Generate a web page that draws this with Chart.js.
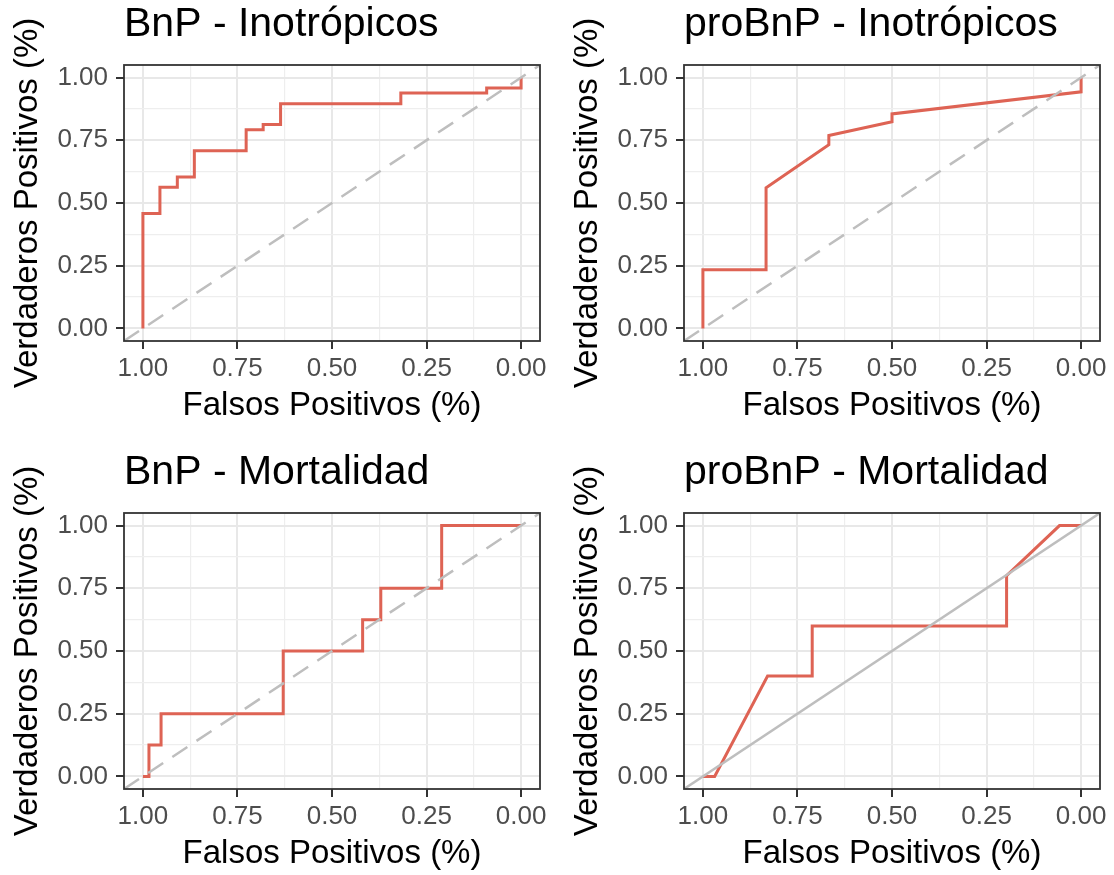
<!DOCTYPE html>
<html>
<head>
<meta charset="utf-8">
<script src="https://cdn.jsdelivr.net/npm/chart.js@4/dist/chart.umd.min.js"></script>
<style>
  html, body { margin: 0; padding: 0; background: #fff; overflow: hidden; }
  #wrap { position: relative; width: 1114px; height: 875px; }
  canvas { position: absolute; }
</style>
</head>
<body>
<div id="wrap">
  <canvas id="c1" width="557" height="430" style="left:0;top:0"></canvas>
  <canvas id="c2" width="557" height="430" style="left:560px;top:0"></canvas>
  <canvas id="c3" width="557" height="430" style="left:0;top:448px"></canvas>
  <canvas id="c4" width="557" height="430" style="left:560px;top:448px"></canvas>
</div>
<script>
"use strict";

// Four ROC curves (specificity axis reversed, as pROC::ggroc draws it).
// Values; vertices of each step curve.

const BNP_INO_X = [1, 1, 0.955, 0.955, 0.909, 0.909, 0.864, 0.864, 0.727, 0.727,
  0.682, 0.682, 0.636, 0.636, 0.318, 0.318, 0.091, 0.091, 0, 0];
const BNP_INO_Y = [0, 0.458, 0.458, 0.563, 0.563, 0.604, 0.604, 0.708, 0.708, 0.792,
  0.792, 0.813, 0.813, 0.896, 0.896, 0.938, 0.938, 0.958, 0.958, 1];

const PRO_INO_X = [1, 1, 0.833, 0.833, 0.667, 0.667, 0.5, 0.5, 0, 0];
const PRO_INO_Y = [0, 0.234, 0.234, 0.561, 0.732, 0.769, 0.824, 0.855, 0.943, 1];

const BNP_MOR_X = [1, 0.984, 0.984, 0.952, 0.952, 0.629, 0.629, 0.419, 0.419,
  0.371, 0.371, 0.21, 0.21, 0];
const BNP_MOR_Y = [0, 0, 0.125, 0.125, 0.25, 0.25, 0.5, 0.5, 0.625, 0.625,
  0.75, 0.75, 1, 1];

const PRO_MOR_X = [1, 0.969, 0.829, 0.711, 0.711, 0.197, 0.197, 0.057, 0];
const PRO_MOR_Y = [0, 0, 0.4, 0.4, 0.6, 0.6, 0.8, 1, 1];

// chance line, drawn corner to corner of the panel
const DIAG_X = [1.05, -0.05];
const DIAG_Y = [-0.05, 1.05];

const MAJOR_TICKS = [0, 0.25, 0.5, 0.75, 1];
const MINOR_TICKS = [0.125, 0.375, 0.625, 0.875];

const PANELS = [
  { id: "c1", title: "BnP - Inotrópicos", x: BNP_INO_X, y: BNP_INO_Y, dashed: true },
  { id: "c2", title: "proBnP - Inotrópicos", x: PRO_INO_X, y: PRO_INO_Y, dashed: true },
  { id: "c3", title: "BnP - Mortalidad", x: BNP_MOR_X, y: BNP_MOR_Y, dashed: true },
  { id: "c4", title: "proBnP - Mortalidad", x: PRO_MOR_X, y: PRO_MOR_Y, dashed: false },
];

const FONT = "'Liberation Sans', Arial, Helvetica, sans-serif";
const RED = "#DE6354";

const toPoints = (xs, ys) => xs.map((x, i) => ({ x, y: ys[i] }));
const isMajor = (v) => MAJOR_TICKS.some((m) => Math.abs(m - v) < 1e-9);

// ggplot-like panel border on all four sides
const borderPlugin = {
  id: "panelBorder",
  afterDatasetsDraw(chart) {
    const { ctx, chartArea: a } = chart;
    ctx.save();
    ctx.strokeStyle = "#333333";
    ctx.lineWidth = 1.8;
    ctx.strokeRect(a.left, a.top, a.right - a.left, a.bottom - a.top);
    ctx.restore();
  },
};

function axis(opts) {
  return Object.assign({
    type: "linear",
    min: -0.05,
    max: 1.05,
    afterBuildTicks: (s) => {
      s.ticks = MAJOR_TICKS.concat(MINOR_TICKS).sort((a, b) => a - b)
        .map((v) => ({ value: v }));
    },
    border: { display: false },
    grid: {
      color: (c) => (c.tick && isMajor(c.tick.value) ? "#E8E8E8" : "#EEEEEE"),
      lineWidth: (c) => (c.tick && isMajor(c.tick.value) ? 2 : 1.2),
      tickColor: (c) => (c.tick && isMajor(c.tick.value) ? "#333333" : "rgba(0,0,0,0)"),
      tickWidth: 2,
      tickLength: 8,
    },
    ticks: {
      autoSkip: false,
      maxRotation: 0,
      color: "#4D4D4D",
      font: { family: FONT, size: 26 },
      callback: (v) => (isMajor(v) ? Number(v).toFixed(2) : ""),
    },
  }, opts);
}

function draw(p) {
  new Chart(document.getElementById(p.id), {
    type: "scatter",
    data: {
      datasets: [
        {
          data: toPoints(DIAG_X, DIAG_Y),
          showLine: true,
          borderColor: "#BEBEBE",
          borderWidth: 2.5,
          borderDash: p.dashed ? [18, 11] : [],
          pointRadius: 0,
        },
        {
          data: toPoints(p.x, p.y),
          showLine: true,
          borderColor: RED,
          borderWidth: 3,
          tension: 0,
          pointRadius: 0,
        },
      ],
    },
    options: {
      responsive: false,
      animation: false,
      events: [],
      layout: { padding: { left: 0, right: 17, top: 0, bottom: 0 } },
      plugins: {
        legend: { display: false },
        tooltip: { enabled: false },
        title: {
          display: true,
          text: p.title,
          align: "start",
          fullSize: false,
          color: "#000000",
          font: { family: FONT, size: 41, weight: "normal" },
          padding: { top: 0, bottom: 15.8 },
        },
      },
      scales: {
        x: axis({
          reverse: true,
          afterFit: (s) => { s.height = 89; },
          ticks: Object.assign(axis({}).ticks, { padding: 4 }),
          title: {
            display: true,
            text: "Falsos Positivos (%)",
            color: "#000000",
            font: { family: FONT, size: 33 },
            padding: { top: 0, bottom: 4 },
          },
        }),
        y: axis({
          afterFit: (s) => { s.width = 124; },
          ticks: Object.assign(axis({}).ticks, { padding: 8 }),
          title: {
            display: true,
            text: "Verdaderos Positivos (%)",
            color: "#000000",
            font: { family: FONT, size: 33 },
            padding: { top: 8, bottom: 0 },
          },
        }),
      },
    },
    plugins: [borderPlugin],
  });
}

PANELS.forEach(draw);
</script>
</body>
</html>
